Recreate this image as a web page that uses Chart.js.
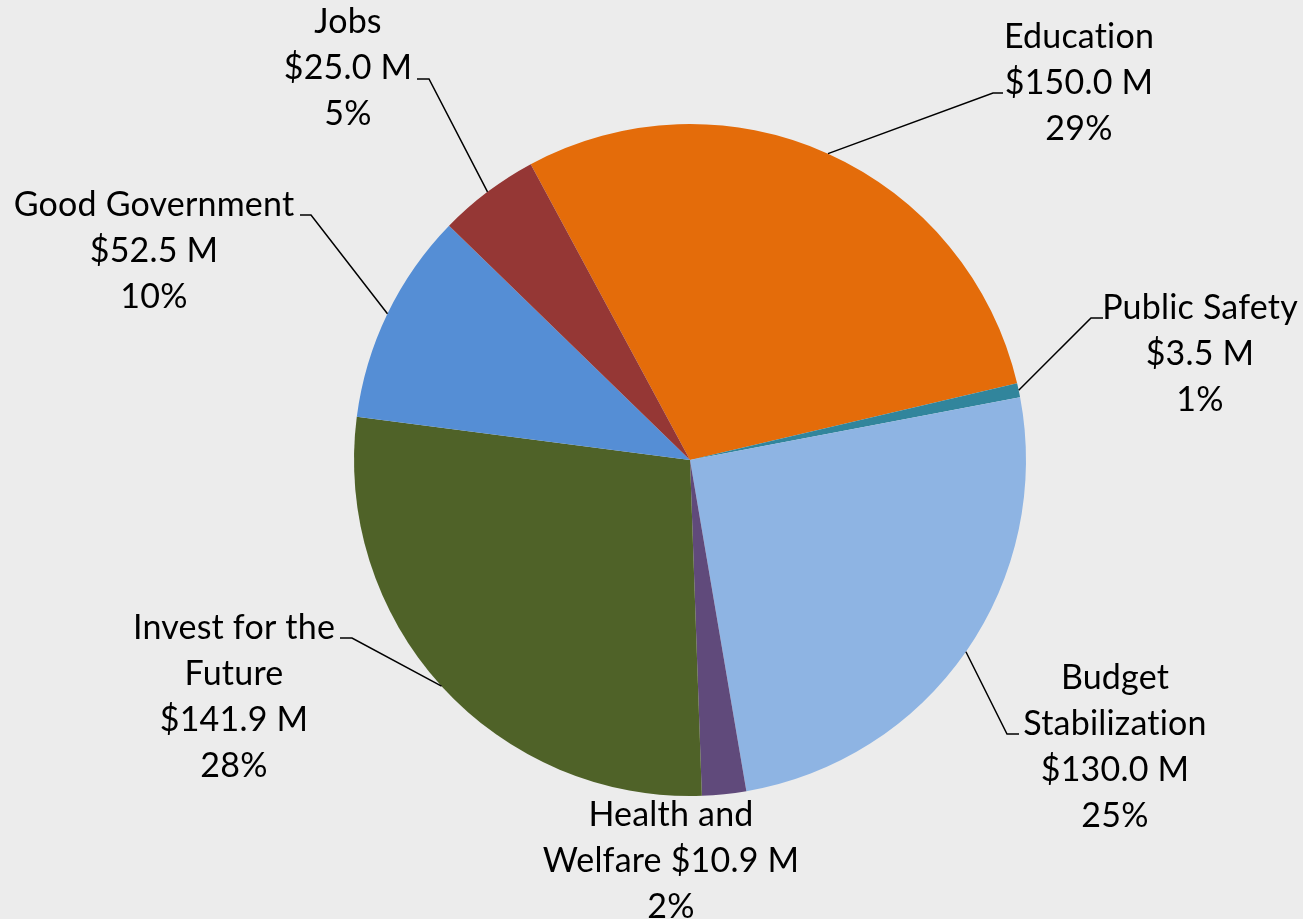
<!DOCTYPE html>
<html>
<head>
<meta charset="utf-8">
<script src="https://cdn.jsdelivr.net/npm/chart.js@4"></script>
<style>
    html, body { margin: 0; padding: 0; background: #ececec; }
    #wrap { width: 1303px; height: 919px; position: relative; }
</style>
</head>
<body>
<div id="wrap"><canvas id="fund-chart"></canvas></div>
<script>
// spending by area, $ millions
const categories = ['Education', 'Public Safety', 'Budget Stabilization', 'Health and Welfare', 'Invest for the Future', 'Good Government', 'Jobs'];
const amounts = [150.0, 3.5, 130.0, 10.9, 141.9, 52.5, 25.0];
const colors = ['#e46c0a', '#31859c', '#8eb4e3', '#604a7b', '#4f6228', '#558ed5', '#953735'];

// how each category name wraps; `inline` puts the amount on the last name line
const nameLines = [
    ['Education'],
    ['Public Safety'],
    ['Budget', 'Stabilization'],
    ['Health and', 'Welfare'],
    ['Invest for the', 'Future'],
    ['Good Government'],
    ['Jobs']
];
const inlineAmount = [false, false, false, true, false, false, false];

// label block centre (x, y of first line) and leader elbow/end points
const labelLayout = [
    { x: 1079, y: 37, elbow: [993, 93], end: [1003, 93] },
    { x: 1200, y: 308, elbow: [1091, 318], end: [1103, 318] },
    { x: 1115, y: 678, elbow: [1007, 734], end: [1019, 734] },
    { x: 671, y: 815, elbow: null, end: null },
    { x: 234, y: 628, elbow: [352, 638], end: [340, 638] },
    { x: 154, y: 205, elbow: [311, 215], end: [300, 215] },
    { x: 348, y: 22, elbow: [429, 79], end: [417, 79] }
];

const total = amounts.reduce((a, b) => a + b, 0);
const lineGap = 46;

function labelText(i) {
    const money = '$' + amounts[i].toFixed(1) + ' M';
    const pct = Math.round(amounts[i] / total * 100) + '%';
    const lines = nameLines[i].slice();
    if (inlineAmount[i]) {
        lines[lines.length - 1] += ' ' + money;
    } else {
        lines.push(money);
    }
    lines.push(pct);
    return lines;
}

const calloutLabels = {
    id: 'calloutLabels',
    afterDatasetsDraw(chart) {
        const ctx = chart.ctx;
        const meta = chart.getDatasetMeta(0);
        ctx.save();
        meta.data.forEach((arc, i) => {
            const lay = labelLayout[i];
            if (lay.elbow) {
                const mid = (arc.startAngle + arc.endAngle) / 2;
                const px = arc.x + Math.cos(mid) * arc.outerRadius;
                const py = arc.y + Math.sin(mid) * arc.outerRadius;
                ctx.beginPath();
                ctx.moveTo(px, py);
                ctx.lineTo(lay.elbow[0], lay.elbow[1]);
                ctx.lineTo(lay.end[0], lay.end[1]);
                ctx.strokeStyle = '#000';
                ctx.lineWidth = 1.5;
                ctx.stroke();
            }
            ctx.fillStyle = '#000';
            ctx.font = '34px Lato';
            // small spacing also keeps the "ti" ligature off
            ctx.letterSpacing = '0.2px';
            ctx.textAlign = 'center';
            ctx.textBaseline = 'middle';
            labelText(i).forEach((line, k) => {
                ctx.fillText(line, lay.x, lay.y + k * lineGap);
            });
        });
        ctx.restore();
    }
};

new Chart(document.getElementById('fund-chart'), {
    type: 'pie',
    data: {
        labels: categories,
        datasets: [{
            data: amounts,
            backgroundColor: colors,
            borderWidth: 0
        }]
    },
    options: {
        responsive: true,
        maintainAspectRatio: false,
        animation: false,
        rotation: -28.3,
        layout: { padding: { left: 354, right: 277, top: 124, bottom: 123 } },
        plugins: {
            legend: { display: false },
            tooltip: { enabled: false }
        }
    },
    plugins: [calloutLabels]
});
</script>
</body>
</html>
